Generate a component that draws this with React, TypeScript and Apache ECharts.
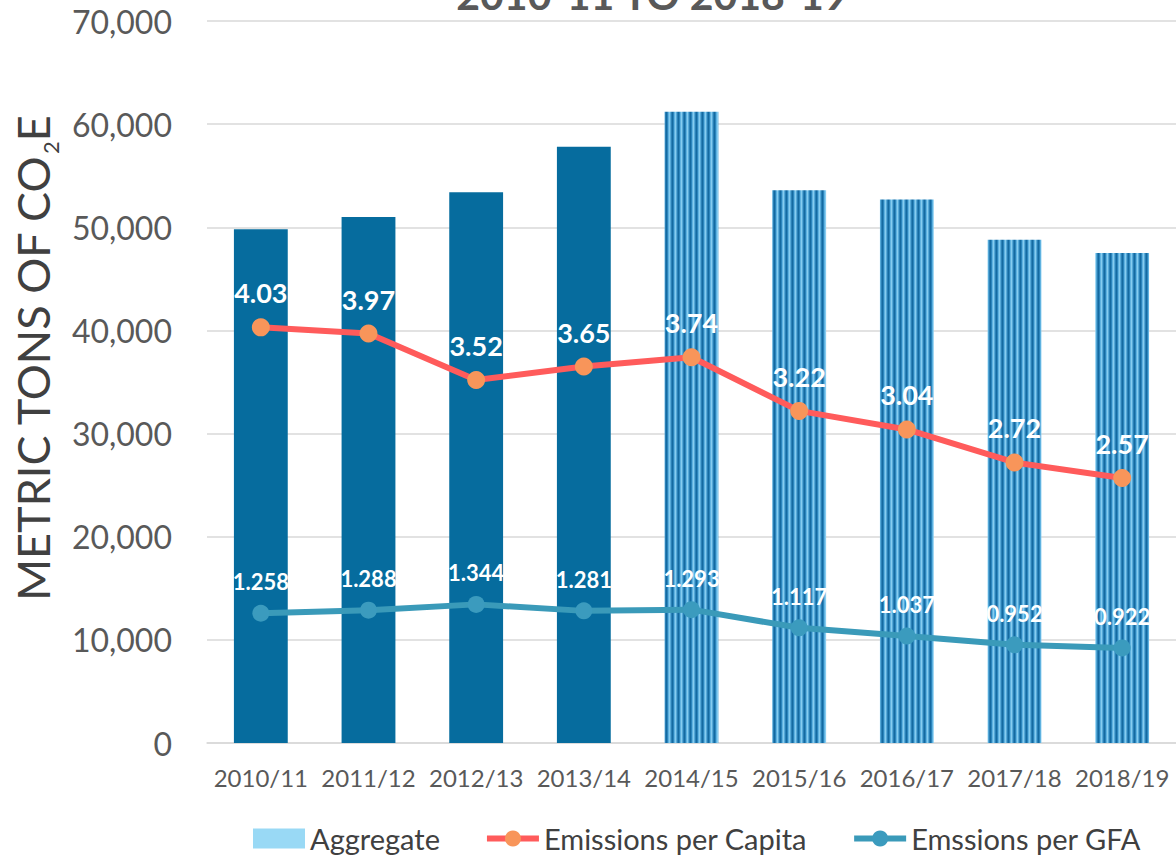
import React, { useEffect, useRef } from 'react';
import * as echarts from 'echarts';

const categories = ['2010/11', '2011/12', '2012/13', '2013/14', '2014/15', '2015/16', '2016/17', '2017/18', '2018/19'];
const aggregate = [49800, 51000, 53400, 57800, 61200, 53600, 52700, 48800, 47500];
const perCapita = [4.03, 3.97, 3.52, 3.65, 3.74, 3.22, 3.04, 2.72, 2.57];
const perGFA = [1.258, 1.288, 1.344, 1.281, 1.293, 1.117, 1.037, 0.952, 0.922];
const solidYears = ['2010/11', '2011/12', '2012/13', '2013/14'];
const seriesNames = ['Aggregate', 'Emissions per Capita', 'Emssions per GFA'];
const titleText = '2010-11 TO 2018-19';
const yNameMain = 'METRIC TONS OF CO';
const yNameSub = '2';
const yNameEnd = 'E';

function makeStripe(): string {
  const c = document.createElement('canvas');
  c.width = 6;
  c.height = 4;
  const ctx = c.getContext('2d');
  const cols = ['#146AA0', '#2B84BC', '#5FB2E0', '#86CCF0', '#55A9D8', '#2A80B7'];
  if (ctx) {
    cols.forEach((col, i) => {
      ctx.fillStyle = col;
      ctx.fillRect(i, 0, 1, 4);
    });
  }
  return c.toDataURL();
}

function measure(text: string, font: string): number {
  const c = document.createElement('canvas');
  const ctx = c.getContext('2d');
  if (!ctx) return text.length * 20;
  ctx.font = font;
  return ctx.measureText(text).width;
}

export default function App() {
  const ref = useRef<HTMLDivElement>(null);
  useEffect(() => {
    if (!ref.current) return;
    const chart = echarts.init(ref.current, undefined, { renderer: 'svg' });
    const stripe = { image: makeStripe(), repeat: 'repeat', imageWidth: 6, imageHeight: 4 };
    const barData = aggregate.map((v, i) => ({
      value: v,
      itemStyle: { color: solidYears.includes(categories[i]) ? '#066C9E' : stripe },
    }));
    const lblBase = {
      show: true,
      position: 'top',
      distance: 12,
      color: '#ffffff',
      fontFamily: 'Lato',
      fontWeight: 'bold',
      textBorderWidth: 0,
    };

    const mainSize = 45;
    const subSize = 22;
    const w1 = measure(yNameMain, `${mainSize}px Lato`);
    const w2 = measure(yNameSub, `${subSize}px Lato`);
    const w3 = measure(yNameEnd, `${mainSize}px Lato`);
    const total = w1 + w2 + w3;
    const cy = 358;
    const yStart = cy + total / 2;
    const xm = 33;
    const nameStyle = (text: string, size: number) => ({
      text,
      fontFamily: 'Lato',
      fontSize: size,
      fill: '#404040',
      align: 'left',
      verticalAlign: 'middle',
    });

    chart.setOption({
      animation: false,
      grid: { left: 207, right: -3, top: 21, bottom: 113, containLabel: false },
      graphic: [
        {
          type: 'text',
          x: 652,
          y: -6,
          style: {
            text: titleText,
            fontFamily: 'Lato',
            fontWeight: 'bold',
            fontSize: 41,
            fill: '#595959',
            align: 'center',
            verticalAlign: 'middle',
          },
        },
        { type: 'text', x: xm, y: yStart, rotation: Math.PI / 2, style: nameStyle(yNameMain, mainSize) },
        { type: 'text', x: xm + 17, y: yStart - w1, rotation: Math.PI / 2, style: nameStyle(yNameSub, subSize) },
        { type: 'text', x: xm, y: yStart - w1 - w2, rotation: Math.PI / 2, style: nameStyle(yNameEnd, mainSize) },
      ],
      legend: {
        left: 248,
        top: 819,
        itemWidth: 52,
        itemHeight: 20,
        itemGap: 44,
        textStyle: { fontFamily: 'Lato', fontSize: 29, color: '#404040' },
        data: [
          { name: seriesNames[0], icon: 'rect' },
          { name: seriesNames[1], lineStyle: { width: 6 } },
          { name: seriesNames[2], lineStyle: { width: 6 } },
        ],
      },
      xAxis: {
        type: 'category',
        data: categories,
        axisTick: { show: false },
        axisLine: { lineStyle: { color: '#D9D9D9', width: 1.5 } },
        axisLabel: { color: '#595959', fontFamily: 'Lato', fontSize: 24, margin: 22, interval: 0 },
      },
      yAxis: [
        {
          type: 'value',
          min: 0,
          max: 70000,
          interval: 10000,
          axisLine: { show: false },
          axisTick: { show: false },
          splitLine: { lineStyle: { color: '#D9D9D9', width: 1.5 } },
          axisLabel: {
            color: '#595959',
            fontFamily: 'Lato',
            fontSize: 32,
            margin: 35,
            formatter: (v: number) => v.toLocaleString('en-US'),
          },
        },
        { type: 'value', min: 0, max: 7, interval: 1, show: false, splitLine: { show: false } },
      ],
      series: [
        {
          name: seriesNames[0],
          type: 'bar',
          barWidth: '50%',
          itemStyle: { color: '#99D9F5' },
          data: barData,
        },
        {
          name: seriesNames[1],
          type: 'line',
          yAxisIndex: 1,
          data: perCapita,
          symbol: 'circle',
          symbolSize: 18,
          itemStyle: { color: '#F8955A' },
          lineStyle: { color: '#FF5B5B', width: 6 },
          label: { ...lblBase, fontSize: 27 },
          z: 3,
        },
        {
          name: seriesNames[2],
          type: 'line',
          yAxisIndex: 1,
          data: perGFA,
          symbol: 'circle',
          symbolSize: 17,
          itemStyle: { color: '#3B9BBE' },
          lineStyle: { color: '#3A9AB9', width: 6 },
          label: { ...lblBase, fontSize: 22 },
          z: 3,
        },
      ],
    });
    return () => chart.dispose();
  }, []);
  return <div ref={ref} style={{ position: 'absolute', left: 0, top: 0, width: 1176, height: 856 }} />;
}
